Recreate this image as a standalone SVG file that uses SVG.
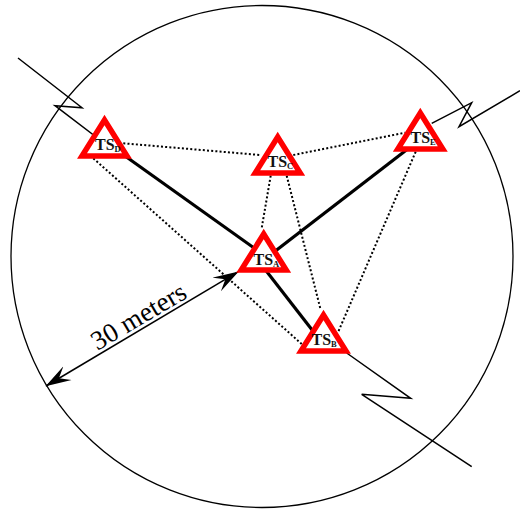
<svg xmlns="http://www.w3.org/2000/svg" width="520" height="514" viewBox="0 0 520 514">
<defs>
<marker id="stealth" viewBox="0 0 27 18" refX="25" refY="9" markerWidth="27" markerHeight="18" markerUnits="userSpaceOnUse" orient="auto-start-reverse"><path d="M0 1L25.5 9L0 17L10 9Z" fill="#000"/></marker>
<polygon id="tri" points="0,-21 22.5,15 -22.5,15" class="tri"/>
</defs>
<style>
.tri{fill:#fff;stroke:#f00;stroke-width:5.5;stroke-miterlimit:10}
.thin{fill:none;stroke:#000;stroke-width:1.5;stroke-linejoin:miter}
.thick{fill:none;stroke:#000;stroke-width:3.2}
.dot{fill:none;stroke:#000;stroke-width:2;stroke-dasharray:2 2.2}
.lbl{font-family:"Liberation Serif","Times New Roman",serif;font-weight:bold;font-size:16px;fill:#111}
.sub{font-size:8.5px}
.dim{font-family:"Liberation Serif","Times New Roman",serif;font-size:27px;fill:#000;text-anchor:middle}
</style>
<circle cx="262" cy="256.5" r="251" fill="none" stroke="#000" stroke-width="1.3"/>
<g id="connectors">
<path class="thin" d="M18 58L82 107.7L55 105.7L104 143"/>
<path class="thin" d="M346.7 353L410.7 398.3L361.7 394.3L471.7 466.7"/>
<path class="thin" d="M431.7 123.3L471.7 102.7L459 126.7L520 90.7"/>
<path class="thick" d="M104 141L263 254.4"/>
<path class="thick" d="M255 256.5L323 344"/>
<path class="thick" d="M265 259L420 139.4"/>
<path class="dot" d="M123.3 143.3L260 155"/>
<path class="dot" d="M293.3 155L405 132.7"/>
<path class="dot" d="M270.7 175.7L261.7 228"/>
<path class="dot" d="M286.7 175.7L320.7 310"/>
<path class="dot" d="M415.7 151.7L338.3 331.7"/>
<path class="dot" d="M93.3 158.3L301.7 344"/>
<path class="thin" d="M46 386L238.3 271.7" marker-start="url(#stealth)" marker-end="url(#stealth)"/>
</g>
<text class="dim" transform="translate(143 324) rotate(-30.7)" x="0" y="0">30 meters</text>
<g id="TS_D"><use href="#tri" x="104.5" y="141"/><text class="lbl" x="95" y="150">TS<tspan class="sub" dy="2">D</tspan></text></g>
<g id="TS_C"><use href="#tri" x="277.7" y="158"/><text class="lbl" x="267.5" y="167">TS<tspan class="sub" dy="2">C</tspan></text></g>
<g id="TS_E"><use href="#tri" x="420.3" y="134"/><text class="lbl" x="410.5" y="143">TS<tspan class="sub" dy="2">E</tspan></text></g>
<g id="TS_A"><use href="#tri" x="263.7" y="255"/><text class="lbl" x="253.5" y="265">TS<tspan class="sub" dy="2">A</tspan></text></g>
<g id="TS_B"><use href="#tri" x="323.5" y="336"/><text class="lbl" x="311.5" y="345">TS<tspan class="sub" dy="2">B</tspan></text></g>
</svg>
